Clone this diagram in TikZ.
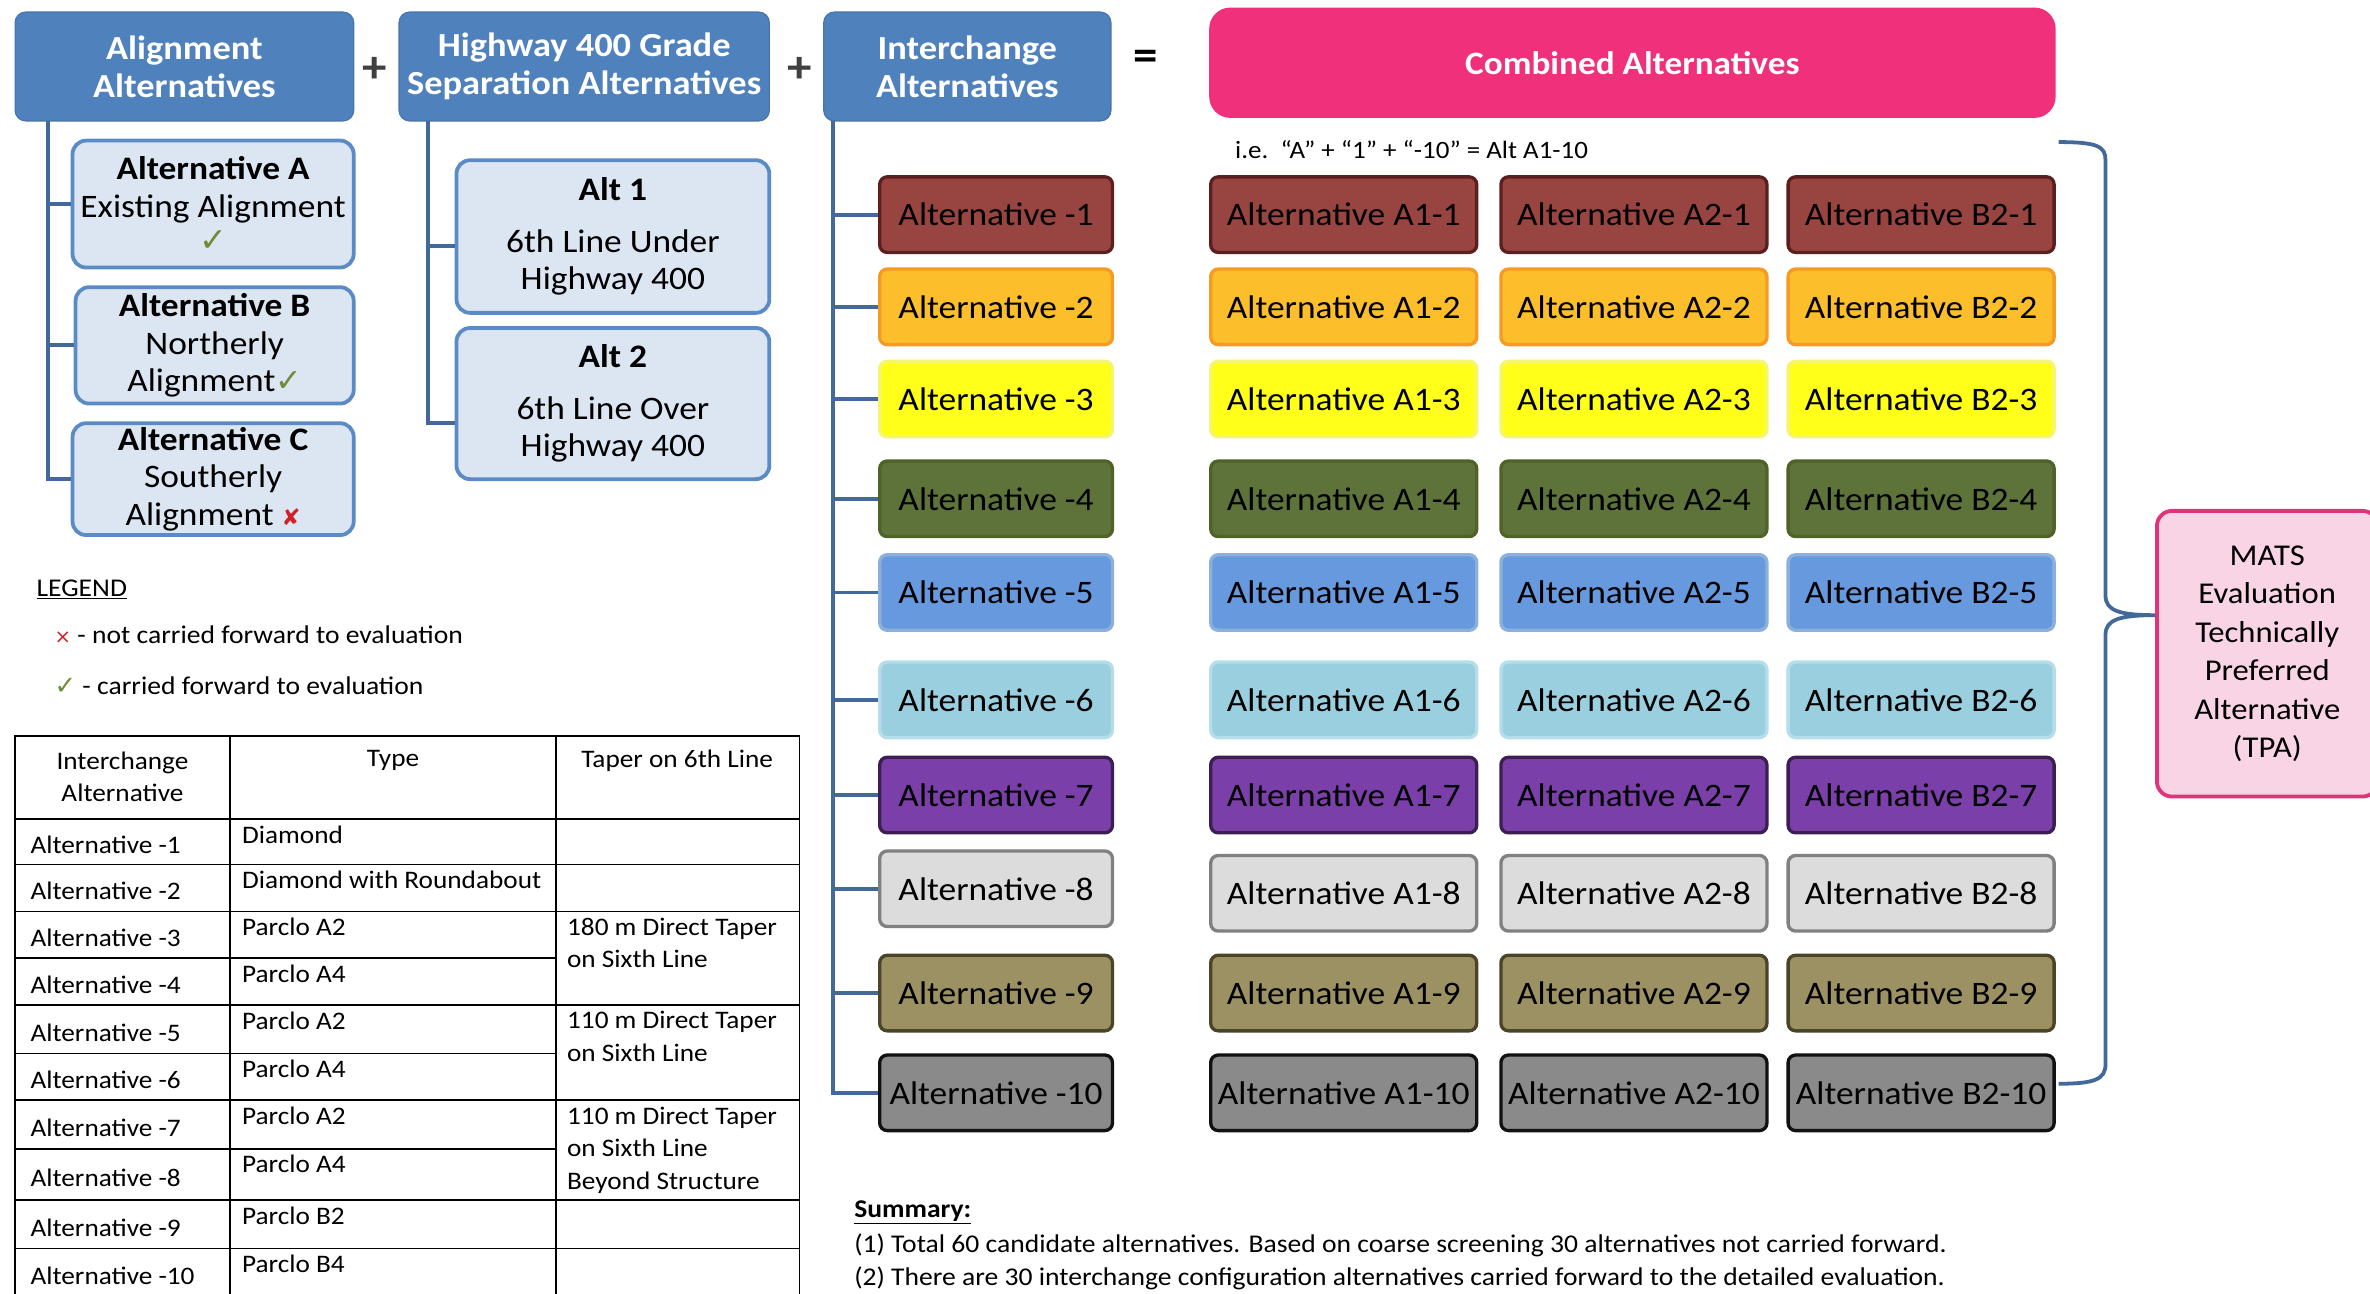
\documentclass[tikz,border=0pt]{standalone}
\usepackage{fontspec}
\setmainfont[FakeStretch=1.08]{Carlito}
\newfontfamily\symfont{DejaVu Sans}
\definecolor{hdrblue}{HTML}{4F81BD}
\definecolor{subfill}{HTML}{DCE6F2}
\definecolor{subdraw}{HTML}{5B8BC6}
\definecolor{treeblue}{HTML}{43699A}
\definecolor{pinkT}{HTML}{F0307A}
\definecolor{matsfill}{HTML}{F9D4E5}
\definecolor{matsdraw}{HTML}{E0337A}
\definecolor{tick}{HTML}{6F8C36}
\definecolor{xred}{HTML}{D0202A}
\definecolor{plusgray}{HTML}{404040}
\definecolor{cf1}{HTML}{984542}\definecolor{cd1}{HTML}{5A1F1E}
\definecolor{cf2}{HTML}{FDBE2C}\definecolor{cd2}{HTML}{F59A23}
\definecolor{cf3}{HTML}{FFFF1A}\definecolor{cd3}{HTML}{F6F66E}
\definecolor{cf4}{HTML}{5E7339}\definecolor{cd4}{HTML}{4F6228}
\definecolor{cf5}{HTML}{6699DD}\definecolor{cd5}{HTML}{8CB0DC}
\definecolor{cf6}{HTML}{9ACFE0}\definecolor{cd6}{HTML}{B5DDEA}
\definecolor{cf7}{HTML}{7B3FA9}\definecolor{cd7}{HTML}{3B1F52}
\definecolor{cf8}{HTML}{DCDCDC}\definecolor{cd8}{HTML}{808080}
\definecolor{cf9}{HTML}{9C9162}\definecolor{cd9}{HTML}{4A4528}
\definecolor{cf10}{HTML}{8A8A8A}\definecolor{cd10}{HTML}{111111}
\begin{document}
\begin{tikzpicture}[x=1pt,y=-1pt,
  hdr/.style={fill=hdrblue, draw=hdrblue!90!black, line width=0.8pt, rounded corners=7pt, text=white, align=center, font=\fontsize{22.3}{25}\selectfont\bfseries, inner sep=0pt},
  sub/.style={fill=subfill, draw=subdraw, line width=2.5pt, rounded corners=9pt, align=center, font=\fontsize{21.7}{25}\selectfont, inner sep=0pt},
  altbox/.style={rounded corners=5pt, line width=2.2pt, minimum height=50pt, inner sep=0pt, font=\fontsize{21.7}{24}\selectfont},
  tree/.style={draw=treeblue, line width=2.5pt},
  tbl/.style={font=\fontsize{16.7}{21.5}\selectfont, inner sep=0pt},
  tline/.style={line width=1.2pt, black},
  sym/.style={font=\fontsize{30}{30}\selectfont\bfseries, inner sep=0pt}
]
\useasboundingbox (0,0) rectangle (1568,856);
\clip (0,0) rectangle (1568,856);
\fill[white] (0,0) rectangle (1568,856);

% headers
\node[hdr, minimum width=224pt, minimum height=72pt] (h1) at (122,44) {Alignment\\Alternatives};
\node[hdr, minimum width=245pt, minimum height=72pt] (h2) at (386.5,44) {Highway 400 Grade\\Separation Alternatives};
\node[hdr, minimum width=190pt, minimum height=72pt] (h3) at (640,44) {Interchange\\Alternatives};
\node[sym, text=plusgray] (p1) at (248,46) {+};
\node[sym, text=plusgray] (p2) at (529,46) {+};
\node[sym, text=black] (eq) at (758,40) {=};
\node[fill=pinkT, rounded corners=14pt, minimum width=560pt, minimum height=73pt, text=white, font=\fontsize{21.6}{25}\selectfont\bfseries, inner sep=0pt] (comb) at (1080,41.5) {Combined Alternatives};

% alignment alternatives
\node[sub, minimum width=186pt, minimum height=84pt] (altA) at (141,135) {\textbf{Alternative A}\\Existing Alignment\\[-2pt]{\symfont\fontsize{22}{22}\selectfont\color{tick}✓}};
\node[sub, minimum width=184pt, minimum height=77pt] (altB) at (142,228.5) {\textbf{Alternative B}\\Northerly\\Alignment{\symfont\fontsize{21}{20}\selectfont\color{tick}✓}};
\node[sub, minimum width=186pt, minimum height=74pt] (altC) at (141,317) {\textbf{Alternative C}\\Southerly\\Alignment {\symfont\fontsize{15}{20}\selectfont\color{xred}✘}};
\coordinate (t1) at (32,80);
\draw[tree] (t1) |- (altA.west);
\draw[tree] (t1) |- (altB.west);
\draw[tree] (t1) |- (altC.west);

% grade separation alternatives
\node[sub, minimum width=207pt, minimum height=101pt] (alt1) at (405.5,156.5) {\textbf{Alt 1}\\[9pt]6th Line Under\\Highway 400};
\node[sub, minimum width=207pt, minimum height=100pt] (alt2) at (405.5,267) {\textbf{Alt 2}\\[9pt]6th Line Over\\Highway 400};
\coordinate (t2) at (283,80);
\draw[tree] (t2) |- ([yshift=-6pt]alt1.west);
\draw[tree] (t2) |- ([yshift=-13pt]alt2.west);

% interchange + combined alternatives
\coordinate (t3) at (551,80);
\foreach \i/\ya/\yb in {1/142/142, 2/203/203, 3/264/264, 4/330/330, 5/392/392, 6/463/463, 7/526/526, 8/588/591, 9/657/657, 10/723/723} {
  \node[altbox, fill=cf\i, draw=cd\i, minimum width=154pt] (ic\i) at (659,\ya) {Alternative -\i};
  \node[altbox, fill=cf\i, draw=cd\i, minimum width=176pt] (aa\i) at (889,\yb) {Alternative A1-\i};
  \node[altbox, fill=cf\i, draw=cd\i, minimum width=176pt] (ab\i) at (1081,\yb) {Alternative A2-\i};
  \node[altbox, fill=cf\i, draw=cd\i, minimum width=176pt] (bb\i) at (1271,\yb) {Alternative B2-\i};
  \draw[tree] (t3) |- (ic\i.west);
}

\node[anchor=west, inner sep=0pt, font=\fontsize{16.5}{20}\selectfont] (ie) at (817,99) {i.e.\ \ “A” + “1” + “-10” = Alt A1-10};

% bracket and MATS box
\coordinate (bt) at (1362,94);
\coordinate (bb) at (1362,717);
\coordinate (tip) at (1426,407);
\node[fill=matsfill, draw=matsdraw, line width=2.5pt, rounded corners=10pt, minimum width=146pt, minimum height=189pt, align=center, inner sep=0pt, font=\fontsize{20}{25.4}\selectfont] (mats) at (1500,432.5) {MATS\\Evaluation\\Technically\\Preferred\\Alternative\\(TPA)};
\draw[tree] (bt) .. controls (1388,94) and (1393,97) .. (1393,106) -- (1393,394) .. controls (1393,404) and (1402,407) .. (tip) .. controls (1402,407) and (1393,410) .. (1393,420) -- (1393,704) .. controls (1393,714) and (1386,717) .. (bb);

% legend
\node[anchor=west, inner sep=0pt, font=\fontsize{16.9}{20}\selectfont] (leg) at (24,390) {\underline{LEGEND}};
\node[anchor=west, inner sep=0pt, font=\fontsize{16.9}{20}\selectfont] (leg1) at (36,420) {{\symfont\fontsize{13}{14}\selectfont\color{xred}×} - not carried forward to evaluation};
\node[anchor=west, inner sep=0pt, font=\fontsize{16.9}{20}\selectfont] (leg2) at (36,454) {{\symfont\fontsize{17}{14}\selectfont\color{tick}✓} - carried forward to evaluation};

% table
\draw[tline] (10,487) rectangle (529,870);
\foreach \yy in {542,572,603,665,728,794,826} \draw[tline] (10,\yy) -- (529,\yy);
\foreach \yy in {634,697,760} \draw[tline] (10,\yy) -- (368,\yy);
\draw[tline] (152,487) -- (152,870);
\draw[tline] (368,487) -- (368,870);
\node[tbl, align=center] (th1) at (81,514) {Interchange\\Alternative};
\node[tbl] (th2) at (260,503) {Type};
\node[tbl] (th3) at (448,503) {Taper on 6th Line};
\foreach \i/\top/\bot/\ty in {1/542/572/Diamond, 2/572/603/Diamond with Roundabout, 3/603/634/Parclo A2, 4/634/665/Parclo A4, 5/665/697/Parclo A2, 6/697/728/Parclo A4, 7/728/760/Parclo A2, 8/760/794/Parclo A4, 9/794/826/Parclo B2, 10/826/858/Parclo B4} {
  \node[tbl, anchor=west] (tc\i) at (20,{(\top+\bot)/2+2}) {Alternative -\i};
  \node[tbl, anchor=north west] (tt\i) at (160,\top+4) {\ty};
}
\node[tbl, anchor=north west, align=left] (tp1) at (375,607) {180 m Direct Taper\\on Sixth Line};
\node[tbl, anchor=north west, align=left] (tp2) at (375,669) {110 m Direct Taper\\on Sixth Line};
\node[tbl, anchor=north west, align=left] (tp3) at (375,732) {110 m Direct Taper\\on Sixth Line\\Beyond Structure};

% summary
\node[anchor=west, inner sep=0pt, font=\fontsize{16.9}{20}\selectfont\bfseries] (sum) at (565,802) {\underline{Summary:}};
\node[anchor=west, inner sep=0pt, font=\fontsize{16.9}{20}\selectfont] (sum1) at (565,824) {(1) Total 60 candidate alternatives. Based on coarse screening 30 alternatives not carried forward.};
\node[anchor=west, inner sep=0pt, font=\fontsize{16.9}{20}\selectfont] (sum2) at (565,846) {(2) There are 30 interchange configuration alternatives carried forward to the detailed evaluation.};
\end{tikzpicture}
\end{document}
